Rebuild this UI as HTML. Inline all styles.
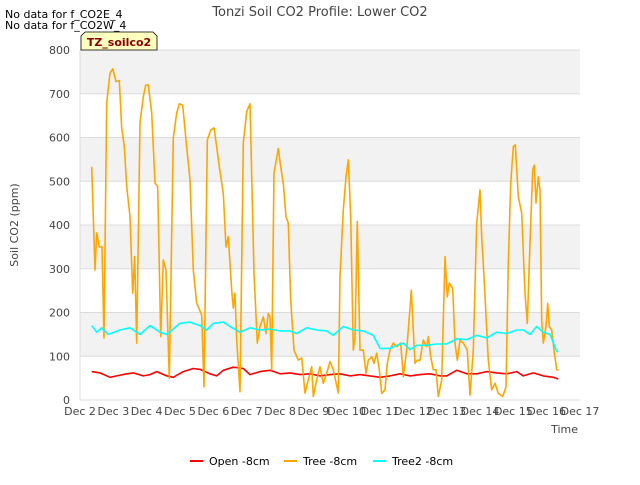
<!DOCTYPE html>
<html><head><meta charset="utf-8"><style>
body{margin:0;background:#fff;}
svg text{font-family:"DejaVu Sans","Liberation Sans",sans-serif;}
</style></head><body>
<svg id="chart" width="640" height="480" viewBox="0 0 640 480" xmlns="http://www.w3.org/2000/svg">
<rect width="640" height="480" fill="#fff"/>
<g id="bands"></g>
<g id="grid"></g>
<g id="series"></g>
<g id="axes"></g>
<text x="320" y="16" text-anchor="middle" font-size="13" fill="#444">Tonzi Soil CO2 Profile: Lower CO2</text>
<text x="5" y="18" font-size="11" fill="#000">No data for f_CO2E_4</text>
<text x="5" y="29" font-size="11" fill="#000">No data for f_CO2W_4</text>
<g>
<path d="M81,36 L85,32 L153,32 L157,36 L157,50 L81,50 Z" fill="#ffffc0" stroke="#000" stroke-width="0.8"/>
<text x="119" y="46" text-anchor="middle" font-size="11" font-weight="bold" fill="#8b0000">TZ_soilco2</text>
</g>
<text transform="translate(18,225) rotate(-90)" text-anchor="middle" font-size="11" fill="#444">Soil CO2 (ppm)</text>
<text x="578" y="433" text-anchor="end" font-size="11" fill="#444">Time</text>
<g>
<g><rect x="190" y="460" width="13" height="2" fill="#ff0000"/><text x="209" y="465" font-size="11" fill="#000">Open -8cm</text></g>
<g><rect x="284" y="460" width="13" height="2" fill="#ffa500"/><text x="303" y="465" font-size="11" fill="#000">Tree -8cm</text></g>
<g><rect x="373" y="460" width="13" height="2" fill="#00ffff"/><text x="392" y="465" font-size="11" fill="#000">Tree2 -8cm</text></g>
</g>
</svg>
<script>
// days since Dec 2
const treeT=[0.35,0.45,0.50,0.58,0.66,0.72,0.80,0.90,0.98,1.08,1.18,1.25,1.33,1.40,1.50,1.58,1.64,1.70,1.80,1.90,1.97,2.05,2.15,2.25,2.33,2.42,2.50,2.58,2.68,2.80,2.90,2.98,3.08,3.18,3.30,3.40,3.50,3.65,3.72,3.82,3.92,4.02,4.10,4.18,4.30,4.38,4.45,4.55,4.60,4.65,4.70,4.80,4.90,5.00,5.10,5.22,5.32,5.40,5.50,5.58,5.65,5.70,5.75,5.82,5.95,6.02,6.10,6.18,6.25,6.32,6.42,6.55,6.65,6.75,6.85,6.95,7.00,7.10,7.20,7.30,7.40,7.50,7.60,7.75,7.80,7.90,7.98,8.05,8.12,8.20,8.25,8.32,8.40,8.50,8.58,8.65,8.75,8.82,8.90,8.98,9.05,9.15,9.22,9.30,9.40,9.50,9.62,9.70,9.80,9.88,9.94,10.05,10.12,10.20,10.30,10.40,10.45,10.52,10.60,10.68,10.75,10.85,10.95,11.02,11.08,11.18,11.25,11.32,11.40,11.50,11.62,11.70,11.80,11.90,12.00,12.05,12.12,12.25,12.35,12.45,12.55,12.68,12.78,12.85,12.92,13.00,13.06,13.15,13.25,13.35,13.42,13.50,13.58,13.63,13.68,13.75,13.80,13.85,13.90,13.98,14.03,14.08,14.15,14.22,14.30,14.35];
const treeV=[533,297,382,350,350,142,679,747,757,728,730,622,579,488,419,244,328,130,633,693,720,720,656,496,488,145,320,297,50,599,656,677,674,594,503,297,221,194,30,594,617,622,579,533,472,350,373,251,210,244,137,19,587,659,677,290,130,168,190,152,198,190,69,518,575,533,495,419,404,229,114,91,96,16,46,76,8,46,76,38,61,88,69,16,282,434,510,549,419,114,145,408,114,114,61,91,99,84,107,69,15,23,84,114,130,122,130,53,114,190,251,84,91,91,137,122,145,99,69,69,8,46,328,236,267,255,130,91,137,130,114,11,114,404,480,373,282,91,23,38,15,8,30,312,495,579,583,465,427,244,175,358,526,537,450,510,480,183,130,168,221,168,160,114,69,69];
const openT=[0.35,0.6,0.9,1.1,1.4,1.6,1.9,2.1,2.3,2.6,2.8,3.1,3.4,3.6,3.9,4.1,4.3,4.6,4.9,5.1,5.4,5.7,6.0,6.3,6.6,6.9,7.2,7.5,7.8,8.1,8.4,8.7,9.0,9.3,9.6,9.9,10.2,10.5,10.8,11.0,11.3,11.6,11.9,12.2,12.5,12.8,13.1,13.3,13.6,13.9,14.2,14.35];
const openV=[65,62,52,55,60,62,55,58,65,55,52,65,72,70,60,55,68,75,72,58,65,68,60,62,58,60,55,58,60,55,58,55,52,55,60,55,58,60,55,55,68,60,60,65,62,60,65,55,62,55,52,48];
const tree2T=[0.35,0.5,0.65,0.85,1.2,1.5,1.8,2.1,2.4,2.6,3.0,3.3,3.6,3.8,4.0,4.3,4.5,4.8,5.1,5.4,5.7,6.0,6.3,6.5,6.8,7.1,7.4,7.6,7.9,8.2,8.5,8.8,9.0,9.3,9.5,9.7,9.9,10.1,10.4,10.7,11.0,11.3,11.6,11.9,12.2,12.5,12.8,13.1,13.3,13.5,13.7,13.9,14.1,14.3,14.35];
const tree2V=[170,155,165,150,160,165,150,170,155,150,175,178,170,160,175,178,168,155,165,160,162,158,158,152,165,160,158,148,168,160,158,148,118,118,125,130,115,125,125,128,128,140,138,148,142,155,152,160,160,150,168,155,150,112,110];
const yTicks=[0,100,200,300,400,500,600,700,800];
const xTickLabels=["Dec 2","Dec 3","Dec 4","Dec 5","Dec 6","Dec 7","Dec 8","Dec 9","Dec 10","Dec 11","Dec 12","Dec 13","Dec 14","Dec 15","Dec 16","Dec 17"];

const NS="http://www.w3.org/2000/svg";
const L=80,R=580,T=50,B=400;
const xs=t=>L+t*(R-L)/15;
const ys=v=>B-v*(B-T)/800;
function mk(tag,parent){const e=document.createElementNS(NS,tag);document.getElementById(parent).appendChild(e);return e;}

for(let i=0;i<yTicks.length-1;i++){
  if(i%2===1){
    const r=mk('rect','bands');
    
    
    r.setAttribute('x',L);r.setAttribute('width',R-L);
    r.setAttribute('y',ys(yTicks[i+1]));r.setAttribute('height',ys(yTicks[i])-ys(yTicks[i+1]));
    r.setAttribute('fill','#f2f2f2');
  }
}
yTicks.forEach(v=>{
  const l=mk('line','grid');
  
  
  l.setAttribute('x1',L);l.setAttribute('x2',R);l.setAttribute('y1',ys(v));l.setAttribute('y2',ys(v));
  l.setAttribute('stroke','#dcdcdc');l.setAttribute('stroke-width','1');
  const t=mk('text','axes');
  
  
  t.setAttribute('x',L-10);t.setAttribute('y',ys(v)+4);t.setAttribute('text-anchor','end');
  t.setAttribute('font-size','11');t.setAttribute('fill','#444');t.textContent=v;
});
const ax=mk('line','axes');


ax.setAttribute('x1',L);ax.setAttribute('x2',L);ax.setAttribute('y1',T);ax.setAttribute('y2',B);ax.setAttribute('stroke','#dcdcdc');
xTickLabels.forEach((s,i)=>{
  const t=mk('text','axes');
  
  
  t.setAttribute('x',xs(i));t.setAttribute('y',415);t.setAttribute('text-anchor','middle');
  t.setAttribute('font-size','11');t.setAttribute('fill','#444');t.textContent=s;
});
function line(T_,V_,color,name){
  const p=mk('polyline','series');
  
  
  p.setAttribute('points',T_.map((t,i)=>xs(t).toFixed(1)+','+ys(V_[i]).toFixed(1)).join(' '));
  p.setAttribute('fill','none');p.setAttribute('stroke',color);p.setAttribute('stroke-width','1.6');
  p.setAttribute('stroke-linejoin','round');
}
line(openT,openV,'#ff0000','open-8cm-line');
line(treeT,treeV,'#ffa500','tree-8cm-line');
line(tree2T,tree2V,'#00ffff','tree2-8cm-line');
</script>
</body></html>
